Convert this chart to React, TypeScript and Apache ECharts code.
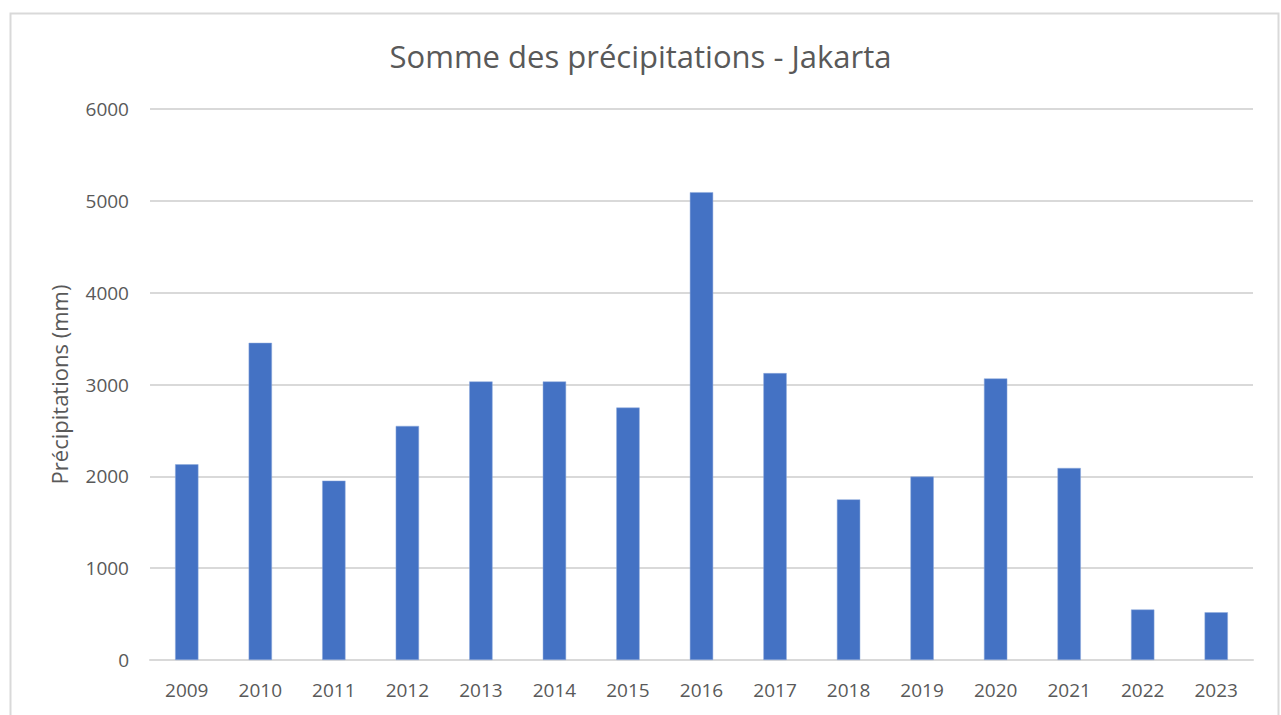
import React, { useEffect, useRef } from "react";
import * as echarts from "echarts";

const years = ["2009","2010","2011","2012","2013","2014","2015","2016","2017","2018","2019","2020","2021","2022","2023"];
const precipitation = [2131, 3454, 1953, 2549, 3033, 3033, 2749, 5094, 3124, 1749, 1997, 3066, 2091, 550, 520];
const titleText = "Somme des précipitations - Jakarta";
const yAxisName = "Précipitations (mm)";

const FONT = "'Open Sans', 'Noto Sans', sans-serif";
const GREY = "#595959";

export default function App() {
  const ref = useRef<HTMLDivElement>(null);
  useEffect(() => {
    document.body.style.margin = "0";
    const chart = echarts.init(ref.current!, null, { renderer: "svg" });
    chart.setOption({
      animation: false,
      backgroundColor: "#ffffff",
      textStyle: { fontFamily: FONT },
      title: {
        text: titleText,
        left: "center",
        top: 35,
        textStyle: { fontFamily: FONT, fontSize: 31, fontWeight: "normal", color: GREY },
      },
      graphic: [
        {
          type: "rect",
          shape: { x: 10.5, y: 13.5, width: 1268, height: 730 },
          style: { fill: "none", stroke: "#d9d9d9", lineWidth: 2 },
          silent: true,
        },
      ],
      grid: { left: 150, right: 28, top: 109, bottom: 55, containLabel: false },
      xAxis: {
        type: "category",
        data: years,
        axisLine: { show: true, lineStyle: { color: "#d9d9d9", width: 2 } },
        axisTick: { show: false },
        axisLabel: { color: GREY, fontSize: 19, fontFamily: FONT, margin: 20 },
      },
      yAxis: {
        type: "value",
        min: 0,
        max: 6000,
        interval: 1000,
        name: yAxisName,
        nameLocation: "middle",
        nameGap: 80,
        nameRotate: 90,
        nameTextStyle: { color: GREY, fontSize: 22, fontFamily: FONT },
        axisLine: { show: false },
        axisTick: { show: false },
        axisLabel: {
          color: GREY,
          fontSize: 19,
          fontFamily: FONT,
          margin: 21,
          formatter: (v: number) => String(v),
        },
        splitLine: { lineStyle: { color: "#d9d9d9", width: 2 } },
      },
      series: [
        {
          type: "bar",
          data: precipitation,
          barWidth: "31.7%",
          itemStyle: { color: "#4472c4", borderColor: "#8faadc", borderWidth: 0.5 },
        },
      ],
    });
    return () => chart.dispose();
  }, []);
  return <div ref={ref} style={{ position: "absolute", left: 0, top: 0, width: 1281, height: 715 }} />;
}
